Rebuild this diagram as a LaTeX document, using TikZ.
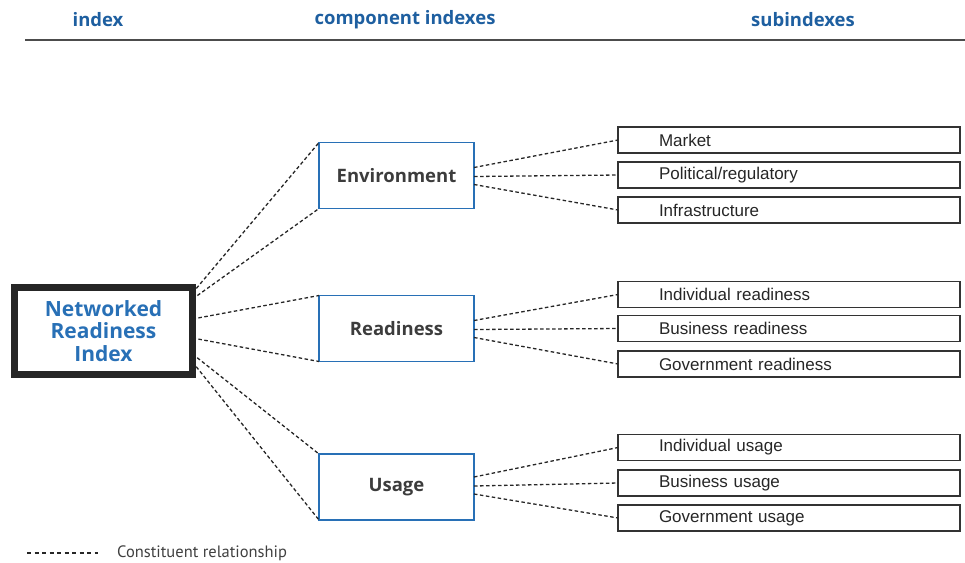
\documentclass[tikz,border=0pt]{standalone}
\usepackage{fontspec}
\setmainfont{Liberation Sans}
\newfontfamily\headfont{Open Sans}
\newfontfamily\legfont{PT Sans}
\usetikzlibrary{calc}
\definecolor{nriblue}{RGB}{40,112,182}
\definecolor{headblue}{RGB}{30,95,160}
\definecolor{compgray}{RGB}{60,60,60}

\begin{document}
\begin{tikzpicture}[
      x=1pt, y=-1pt,
      head/.style={font=\headfont\bfseries\fontsize{18.5}{20}\selectfont, text=headblue},
      index_box/.style={draw=black!85, line width=6.5pt, minimum width=178pt, minimum height=87pt,
        outer sep=0pt, align=center, text=nriblue, font=\headfont\bfseries\fontsize{21}{22.5}\selectfont},
      comp_box/.style={draw=nriblue, line width=1.4pt, minimum width=155pt, minimum height=66pt,
        outer sep=0pt, text=compgray, font=\headfont\bfseries\fontsize{18.5}{20}\selectfont},
      sub_box/.style={draw=black!80, line width=1.2pt, minimum height=26pt, text width=260pt,
        inner xsep=41pt, inner ysep=0pt, outer sep=0pt, align=left, text=black!85,
        font=\fontsize{17}{19}\selectfont},
      rel/.style={black!85, line width=1.3pt, dash pattern=on 3.5pt off 2.5pt},
    ]
    \useasboundingbox (0,0) rectangle (965,562);
    % Column headings and the rule under them.
    \node[head] (h_index) at (98,20) {index};
    \node[head] (h_comp) at (405,20) {component indexes};
    \node[head] (h_sub) at (803,20) {subindexes};
    \draw[black!70, line width=2pt] (25,40) -- (965,40);

    % The index and its three component indexes.
    \node[index_box] (nri) at (103.5,331) {Networked\\Readiness\\Index};
    \node[comp_box] (env) at (396.5,175.5) {Environment};
    \node[comp_box] (rdy) at (396.5,328.5) {Readiness};
    \node[comp_box] (use) at (396.5,487) {Usage};

    % Subindexes.
    \node[sub_box] (mkt) at (789,140) {Market};
    \node[sub_box] (pol) at (789,175) {Political/regulatory};
    \node[sub_box] (inf) at (789,210) {Infrastructure};
    \node[sub_box] (ird) at (789,294.5) {Individual readiness};
    \node[sub_box] (brd) at (789,328.5) {Business readiness};
    \node[sub_box] (grd) at (789,364) {Government readiness};
    \node[sub_box] (ius) at (789,447.5) {Individual usage};
    \node[sub_box] (bus) at (789,483) {Business usage};
    \node[sub_box] (gus) at (789,518) {Government usage};

    % Draw the relationships, index to components.
    \draw[rel] ($(nri.east)+(0,-38)$) -- (env.north west);
    \draw[rel] ($(nri.east)+(0,-32)$) -- (env.south west);
    \draw[rel] ($(nri.east)+(0,-12)$) -- (rdy.north west);
    \draw[rel] ($(nri.east)+(0,7)$) -- (rdy.south west);
    \draw[rel] ($(nri.east)+(0,23)$) -- (use.north west);
    \draw[rel] ($(nri.east)+(0,31)$) -- (use.south west);

    % Components to subindexes.
    \draw[rel] ($(env.east)+(0,-8)$) -- (mkt.west);
    \draw[rel] ($(env.east)+(0,1)$) -- (pol.west);
    \draw[rel] ($(env.east)+(0,9)$) -- (inf.west);
    \draw[rel] ($(rdy.east)+(0,-8)$) -- (ird.west);
    \draw[rel] ($(rdy.east)+(0,1)$) -- (brd.west);
    \draw[rel] ($(rdy.east)+(0,9)$) -- (grd.west);
    \draw[rel] ($(use.east)+(0,-10)$) -- (ius.west);
    \draw[rel] ($(use.east)+(0,-1)$) -- (bus.west);
    \draw[rel] ($(use.east)+(0,7)$) -- (gus.west);

    % Legend.
    \coordinate (leg_a) at (27,553);
    \coordinate (leg_b) at (98,553);
    \draw[rel, dash pattern=on 4pt off 3.5pt] (leg_a) -- (leg_b);
    \node[right, inner sep=0pt, text=black!75, font=\legfont\fontsize{16.5}{18}\selectfont] (leg) at (117,553) {Constituent relationship};
\end{tikzpicture}
\end{document}
